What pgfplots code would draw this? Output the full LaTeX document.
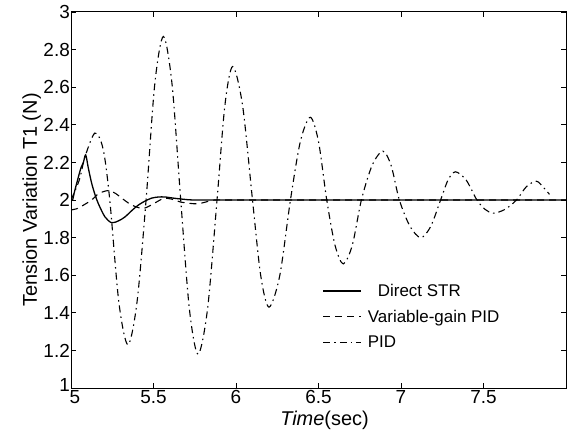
\documentclass[border=0pt]{standalone}
\usepackage{pgfplots}
\pgfplotsset{compat=1.18}
\usepackage{fontspec}
\setmainfont{Liberation Sans}
\begin{document}
\begin{tikzpicture}
\begin{axis}[
  name=ax,
  scale only axis,
  width=495bp, height=376bp,
  xmin=5, xmax=8, ymin=1, ymax=3,
  xtick={5,5.5,6,6.5,7,7.5},
  ytick={1,1.2,1.4,1.6,1.8,2,2.2,2.4,2.6,2.8,3},
  xticklabels={\hspace{8bp}5,5.5,6,6.5,7,7.5},
  yticklabels={\raisebox{7bp}{1}\hspace{2bp},1.2,1.4,1.6,1.8,2,2.2,2.4,2.6,2.8,3},
  tick align=inside,
  major tick length=5bp,
  tick style={black, line width=0.8pt},
  axis line style={line width=1pt},
  /pgf/number format/assume math mode=true,
  tick label style={font=\fontsize{19}{22}\selectfont},
  yticklabel style={inner sep=1bp},
  xticklabel style={inner sep=2bp},
  xlabel={\textit{Time}(sec)},
  ylabel={Tension Variation T1 (N)},
  label style={font=\fontsize{20}{24}\selectfont},
  xlabel style={yshift=-2bp, xshift=6bp},
  ylabel style={yshift=-2bp},
  legend style={draw=none, fill=none, at={(0.508,0.282)}, anchor=north west,
    font=\fontsize{17}{20}\selectfont, row sep=8bp, inner sep=0pt},
  legend cell align=left,
  legend image code/.code={\draw[#1] (0bp,0bp) -- (38bp,0bp);},
]
\addplot[black, line width=1.3pt, smooth] coordinates {
(5.00,2.00)(5.01,2.00)(5.02,2.04)(5.044,2.12)(5.06,2.17)(5.075,2.20)(5.089,2.24)
(5.105,2.17)(5.125,2.09)(5.145,2.03)(5.166,1.98)(5.206,1.91)(5.247,1.879)
(5.29,1.89)(5.327,1.91)(5.37,1.945)(5.408,1.973)(5.45,1.995)(5.489,2.01)
(5.53,2.016)(5.57,2.016)(5.62,2.01)(5.67,2.005)(5.75,2.00)(6.0,2.00)(7.0,2.00)(8.0,2.00)
};
\addlegendentry{\hspace{14bp}Direct STR}
\addplot[black, line width=1.1pt, dash pattern=on 7bp off 5bp, smooth] coordinates {
(5.00,1.947)(5.04,1.955)(5.08,1.975)(5.125,2.00)(5.17,2.035)(5.226,2.05)(5.27,2.035)
(5.307,2.01)(5.338,1.99)(5.368,1.973)(5.438,1.955)(5.51,1.985)(5.56,2.008)(5.61,2.005)
(5.66,1.99)(5.72,1.982)(5.77,1.98)(5.82,1.99)(5.87,2.00)(6.0,2.00)(7.0,2.00)(8.0,2.00)
};
\addlegendentry{\hspace{4bp}Variable-gain PID}
\addplot[black, line width=1.1pt, dash pattern=on 7bp off 4bp on 1.5bp off 4bp, smooth] coordinates {
(5.00,2.00)(5.03,2.06)(5.055,2.12)(5.085,2.23)(5.145,2.356)(5.195,2.27)(5.235,2.00)
(5.29,1.456)(5.345,1.23)(5.40,1.456)(5.455,2.00)(5.5075,2.615)(5.56,2.87)(5.6125,2.615)
(5.665,2.00)(5.7175,1.42)(5.77,1.18)(5.8275,1.42)(5.885,2.00)(5.9325,2.502)(5.98,2.71)
(6.04,2.502)(6.10,2.00)(6.15,1.597)(6.20,1.43)(6.265,1.597)(6.33,2.00)(6.39,2.311)
(6.45,2.44)(6.50,2.311)(6.55,2.00)(6.60,1.76)(6.65,1.66)(6.705,1.76)(6.76,2.00)
(6.825,2.184)(6.89,2.26)(6.94,2.184)(6.99,2.00)(7.055,1.859)(7.12,1.80)(7.18,1.859)
(7.24,2.00)(7.285,2.106)(7.33,2.15)(7.395,2.106)(7.46,2.00)(7.51,1.95)(7.56,1.93)
(7.63,1.95)(7.70,2.00)(7.76,2.071)(7.82,2.10)(7.86,2.07)(7.90,2.03)
};
\addlegendentry{\hspace{4bp}PID}
\end{axis}
\path ([shift={(-71bp,388bp)}]ax.south west) rectangle ([shift={(496bp,-50bp)}]ax.south west);
\end{tikzpicture}
\end{document}
